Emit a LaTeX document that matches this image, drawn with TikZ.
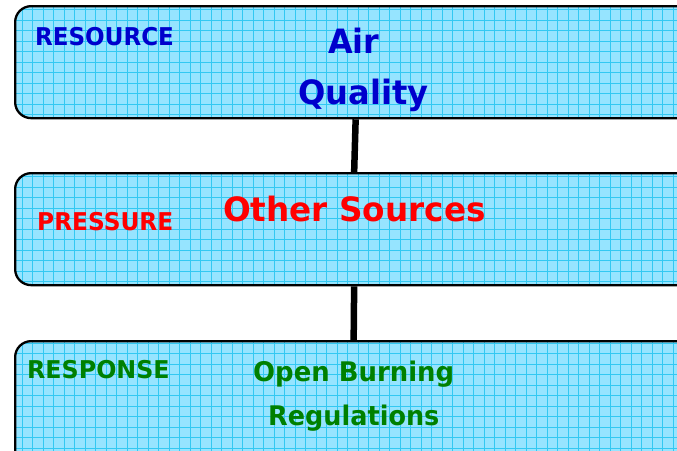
\documentclass[tikz,border=0pt]{standalone}
\usepackage{fontspec}
\setmainfont{DejaVu Sans}
\definecolor{boxfill}{RGB}{150,228,255}
\definecolor{gridc}{RGB}{50,200,242}
\definecolor{tblue}{RGB}{0,0,204}
\definecolor{tred}{RGB}{255,0,0}
\definecolor{tgreen}{RGB}{0,128,0}
\tikzset{
  levelbox/.style={draw=black, line width=2.3pt, rounded corners=16pt, fill=boxfill,
    inner sep=0pt, anchor=north west,
    path picture={\draw[gridc, line width=1pt, step=10.5pt]
      (path picture bounding box.south west) grid (path picture bounding box.north east);}},
  conn/.style={draw=black, line width=6.5pt},
  lab/.style={anchor=base west, inner sep=0pt, font=\bfseries\fontsize{24.5pt}{28pt}\selectfont},
  big/.style={anchor=base west, inner sep=0pt, font=\bfseries\fontsize{33.5pt}{38pt}\selectfont},
  mid/.style={anchor=base west, inner sep=0pt, font=\bfseries\fontsize{27pt}{32pt}\selectfont},
}
\begin{document}
\begin{tikzpicture}[x=1pt,y=-1pt]
\useasboundingbox (0,0) rectangle (677,450);
\node[levelbox, minimum width=686pt, minimum height=112pt] (b1) at (14,5) {};
\node[levelbox, minimum width=686pt, minimum height=112pt] (b2) at (14,172) {};
\node[levelbox, minimum width=686pt, minimum height=130pt] (b3) at (14,340) {};
\draw[conn] ([xshift=-2.5pt]b1.south) -- ([xshift=-4pt]b2.north);
\draw[conn] ([xshift=-4pt]b2.south) -- ([xshift=-4.5pt]b3.north);
\node[lab, text=tblue] (lres) at (35,45) {\scalebox{0.94}[1]{RESOURCE}};
\node[big, text=tblue] (air) at (328,53) {\scalebox{0.95}[1]{Air}};
\node[big, text=tblue] (qual) at (298,104) {\scalebox{0.96}[1]{Quality}};
\node[lab, text=tred] (lpre) at (37,230) {\scalebox{0.95}[1]{PRESSURE}};
\node[big, text=tred] (oth) at (223,221) {\scalebox{0.975}[1]{Other Sources}};
\node[lab, text=tgreen] (lresp) at (27,378) {\scalebox{0.97}[1]{RESPONSE}};
\node[mid, text=tgreen] (open) at (253,381) {\scalebox{0.96}[1]{Open Burning}};
\node[mid, text=tgreen] (regs) at (268,425) {\scalebox{0.945}[1]{Regulations}};
\end{tikzpicture}
\end{document}
